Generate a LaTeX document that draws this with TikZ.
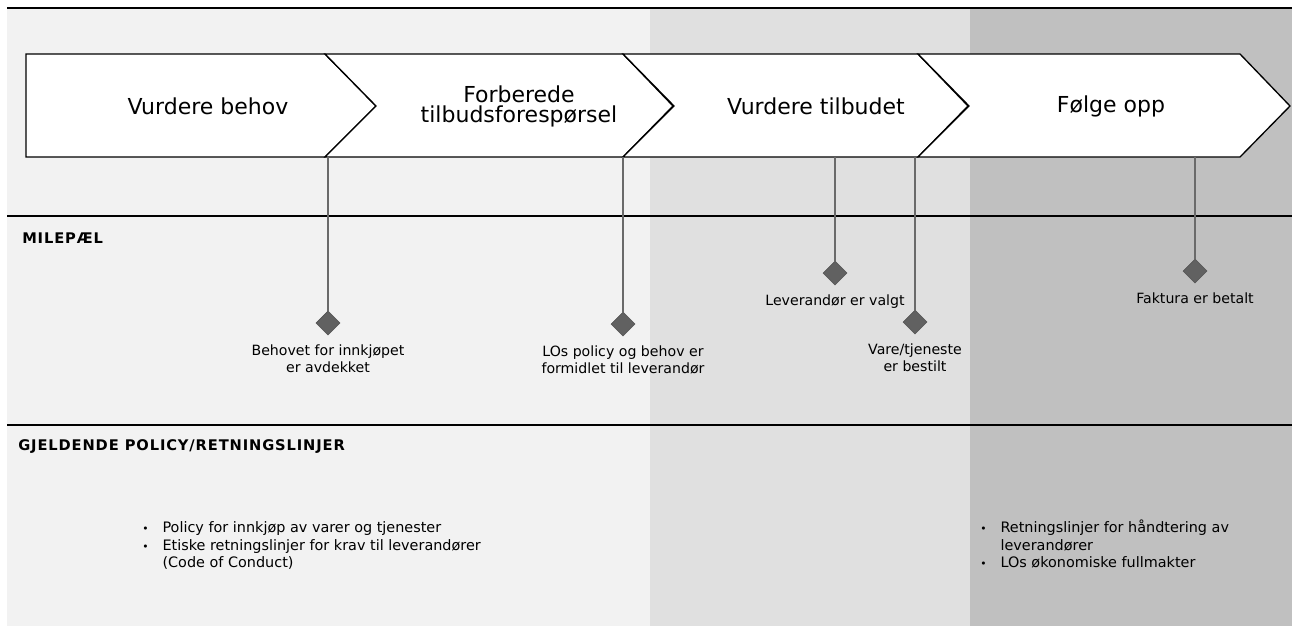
\documentclass[tikz,border=0pt]{standalone}
\usepackage{fontspec}
\setmainfont{DejaVu Sans}
\usetikzlibrary{shapes.geometric, positioning}
\definecolor{panelA}{HTML}{F2F2F2}
\definecolor{panelB}{HTML}{E0E0E0}
\definecolor{panelC}{HTML}{C0C0C0}
\definecolor{stemgray}{HTML}{6A6A6A}
\definecolor{diamondgray}{HTML}{616161}

\begin{document}
\begin{tikzpicture}[x=0.75pt, y=-0.75pt]
    % Styles for the chart
    \tikzstyle{phase text}=[align=center, font=\fontsize{16.5}{15}\selectfont]
    \tikzstyle{milestone}=[diamond, draw=diamondgray!85!black, fill=diamondgray, minimum size=18pt, inner sep=0pt]
    \tikzstyle{stem}=[draw=stemgray, line width=1.5pt]
    \tikzstyle{ms text}=[align=center, font=\fontsize{10.6}{13}\selectfont, inner sep=0pt]
    \tikzstyle{header}=[anchor=west, font=\fontsize{11}{12}\selectfont\bfseries\addfontfeature{LetterSpace=6}, inner sep=0pt]
    \tikzstyle{list text}=[anchor=west, font=\fontsize{10.8}{13.1}\selectfont, inner sep=0pt]
    \tikzstyle{sectionline}=[line width=1.5pt]
    \tikzstyle{chevron}=[draw, fill=white, line width=1pt, line join=miter]

    \useasboundingbox (0,0) rectangle (1292,626);

    % Draw the background panels
    \fill[panelA] (7,8) rectangle (650,626);
    \fill[panelB] (650,8) rectangle (970,626);
    \fill[panelC] (970,8) rectangle (1292,626);

    % Draw the section lines
    \foreach \y in {8,216,425}
        \draw[sectionline] (7,\y) -- (1292,\y);

    % Draw the chevrons
    \draw[chevron] (26,54) -- (325,54) -- (376,106) -- (325,157) -- (26,157) -- cycle;
    \foreach \a/\b in {325/623, 623/918, 918/1240}
        \draw[chevron] (\a,54) -- (\b,54) -- (\b+50,106) -- (\b,157) -- (\a,157) -- (\a+51,106) -- cycle;

    % Phase labels
    \node[phase text] (p1) at (208,106) {Vurdere behov};
    \node[phase text] (p2) at (519,106) {Forberede\\tilbudsforespørsel};
    \node[phase text] (p3) at (816,106) {Vurdere tilbudet};
    \node[phase text] (p4) at (1111,106) {Følge opp};

    % Draw the milestones and their stems
    \foreach \n/\x/\y in {1/328/323, 2/623/324, 3/835/273, 4/915/322, 5/1195/271} {
        \coordinate (s\n) at (\x,157);
        \node[milestone] (m\n) at (\x,\y) {};
        \draw[stem] (s\n) -- (m\n);
    }

    % Milestone labels
    \node[ms text, below=7pt of m1] (l1) {Behovet for innkjøpet\\er avdekket};
    \node[ms text, below=7pt of m2] (l2) {LOs policy og behov er\\formidlet til leverandør};
    \node[ms text, below=7pt of m3] (l3) {Leverandør er valgt};
    \node[ms text, below=7pt of m4] (l4) {Vare/tjeneste\\er bestilt};
    \node[ms text, below=7pt of m5] (l5) {Faktura er betalt};

    % Section headers
    \node[header] (h1) at (22,238) {MILEPÆL};
    \node[header] (h2) at (18,447) {GJELDENDE POLICY/RETNINGSLINJER};

    % Policy lists
    \node[list text] (b1) at (142,546.5) {%
        \begin{tabular}{@{}c@{\hspace{10.5pt}}l@{}}
            {\footnotesize\textbullet} & Policy for innkjøp av varer og tjenester\\
            {\footnotesize\textbullet} & Etiske retningslinjer for krav til leverandører\\
            & (Code of Conduct)
        \end{tabular}};
    \node[list text] (b2) at (980,546.5) {%
        \begin{tabular}{@{}c@{\hspace{10.5pt}}l@{}}
            {\footnotesize\textbullet} & Retningslinjer for håndtering av\\
            & leverandører\\
            {\footnotesize\textbullet} & LOs økonomiske fullmakter
        \end{tabular}};
\end{tikzpicture}
\end{document}
